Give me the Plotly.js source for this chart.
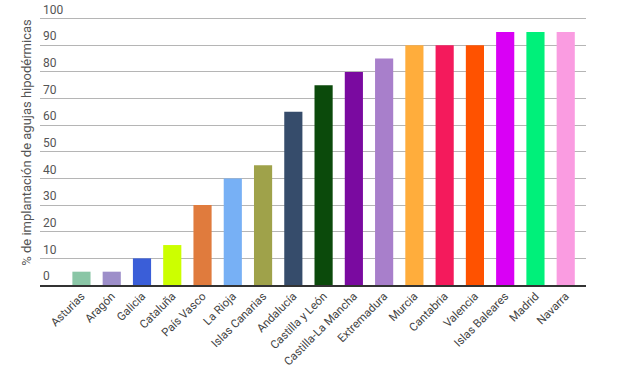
<!DOCTYPE html>
<html><head><meta charset="utf-8">
<script src="https://cdn.plot.ly/plotly-3.0.1.min.js"></script>
<style>html,body{margin:0;padding:0;background:#fff}#chart{width:620px;height:368px}</style>
</head><body><div id="chart"></div>
<script>
const regions = ["Asturias","Aragón","Galicia","Cataluña","País Vasco","La Rioja","Islas Canarias","Andalucía","Castilla y León","Castilla-La Mancha","Extremadura","Murcia","Cantabria","Valencia","Islas Baleares","Madrid","Navarra"];
const values = [5,5,10,15,30,40,45,65,75,80,85,90,90,90,95,95,95];
const colors = ["#8ac6a6","#9d8ec9","#3a5ed8","#ccff00","#e07b3d","#77b0f5","#9fa24a","#364c6b","#0b4a0b","#7a0aa0","#a87fcb","#ffad3c","#f41a5c","#ff5200","#d900f5","#00f07a","#fa9ce1"];
const yTicks = [0,10,20,30,40,50,60,70,80,90,100];

Plotly.newPlot('chart', [{
  type: 'bar', x: regions, y: values,
  marker: {color: colors, line: {width: 0}},
  hoverinfo: 'x+y'
}], {
  width: 620, height: 368,
  margin: {l: 40, r: 34, t: 0, b: 83},
  paper_bgcolor: '#fff', plot_bgcolor: '#fff',
  bargap: 0.4, showlegend: false,
  font: {family: 'Roboto, sans-serif', color: '#444', size: 12},
  xaxis: {
    type: 'category', range: [-1.37, 16.67],
    tickangle: -45, showgrid: false, ticks: '',
    showline: true, linecolor: '#333', linewidth: 2,
    ticklabelstandoff: -2,
    tickfont: {size: 11.5, color: '#444'}, automargin: false
  },
  yaxis: {
    range: [0, 107], tickvals: yTicks, ticktext: yTicks.map(String),
    ticklabelposition: 'inside', ticklabelshift: -9, ticks: '',
    showgrid: true, gridcolor: '#b5b5b5', gridwidth: 1,
    zeroline: false, showline: false,
    tickfont: {size: 12, color: '#555'},
    title: {text: '% de implantación de agujas hipodérmicas', font: {size: 13, color: '#555'}, standoff: 8},
    automargin: false
  }
}, {staticPlot: true});
</script></body></html>
